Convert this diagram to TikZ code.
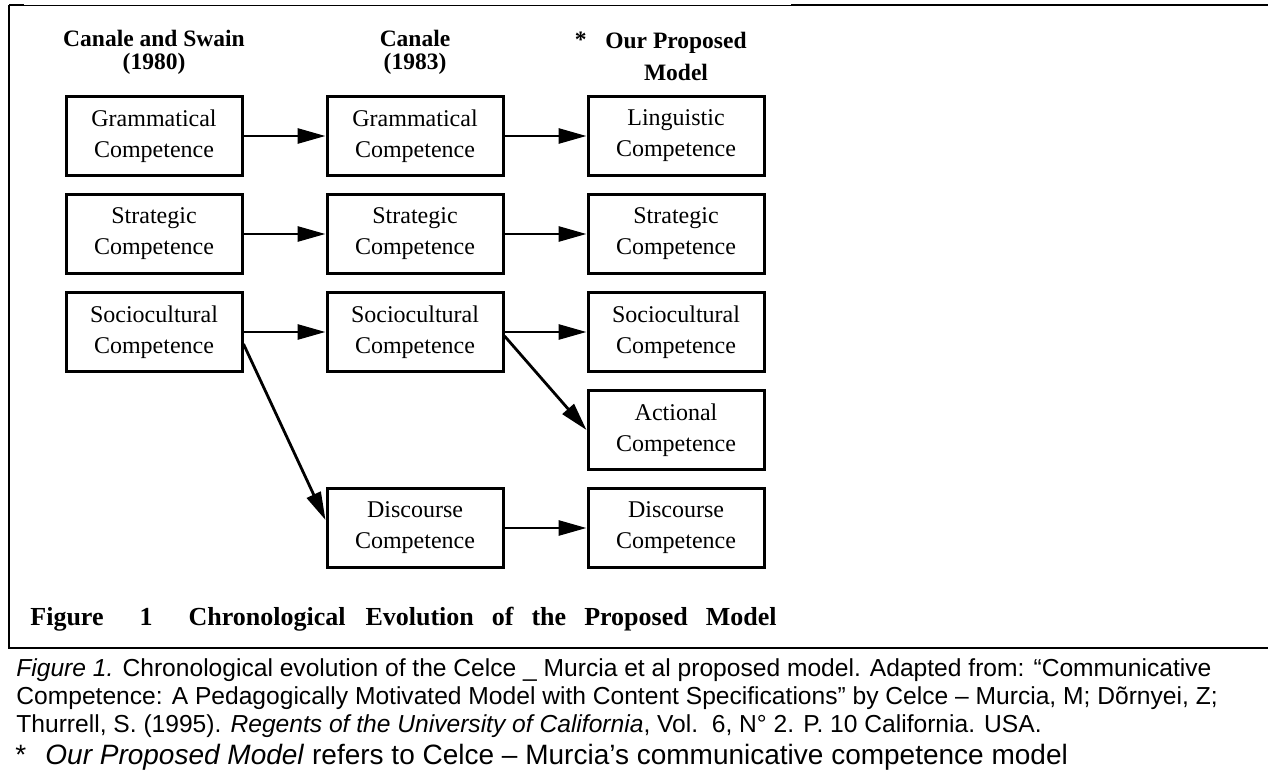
\documentclass[tikz,border=0pt]{standalone}
\usepackage{fontspec}
\setmainfont{Liberation Serif}
\newfontfamily\capfont{Liberation Sans}
\usetikzlibrary{positioning,arrows.meta}
\tikzset{box/.style={draw,line width=1.5pt,minimum width=88pt,minimum height=39.5pt,align=center,inner sep=0pt,font=\fontsize{12}{15.5}\selectfont},
         hdr/.style={align=center,inner sep=0pt,font=\fontsize{11.75}{11.5}\selectfont\bfseries},
         arr/.style={-{Triangle[length=14pt,width=7.5pt]},line width=1.4pt},
         rule/.style={line width=1pt},
         captxt/.style={anchor=base west,inner sep=0pt,font=\capfont\fontsize{12.3}{14}\selectfont}}

\begin{document}
\begin{tikzpicture}[x=0.5pt,y=-0.5pt,node distance=8pt and 41pt]
 \useasboundingbox (0,0) rectangle (1268,776);
 % frame of the table cell
 \draw[rule,line width=0.5pt] (24,5) -- (791,5);
 \draw[rule] (9,5) -- (24,5); \draw[rule] (791,5) -- (1268,5);
 \draw[rule] (9,5) -- (9,648) -- (1268,648);
 % three columns of competences
 \node[box] (g1) at (154,136) {Grammatical\\Competence};
 \node[box,right=of g1] (g2) {Grammatical\\Competence};
 \node[box,right=of g2] (g3) {Linguistic\\Competence};
 \node[box,below=of g1] (t1) {Strategic\\Competence};
 \node[box,right=of t1] (t2) {Strategic\\Competence};
 \node[box,right=of t2] (t3) {Strategic\\Competence};
 \node[box,below=of t1] (s1) {Sociocultural\\Competence};
 \node[box,right=of s1] (s2) {Sociocultural\\Competence};
 \node[box,right=of s2] (s3) {Sociocultural\\Competence};
 \node[box,below=of s3] (a3) {Actional\\Competence};
 \node[box,below=of a3] (d3) {Discourse\\Competence};
 \node[box,left=of d3] (d2) {Discourse\\Competence};
 % column heads
 \node[hdr,above=10pt of g1] (h1) {Canale and Swain\\(1980)};
 \node[hdr,above=10pt of g2] (h2) {Canale\\(1983)};
 \node[hdr,above=7pt of g3,font=\fontsize{11.75}{16}\selectfont\bfseries] (h3) {Our Proposed\\Model};
 \node[hdr,anchor=north east] (star) at ([xshift=-9pt]h3.north west) {*};
 % arrows
 \draw[arr] (g1) -- (g2); \draw[arr] (g2) -- (g3);
 \draw[arr] (t1) -- (t2); \draw[arr] (t2) -- (t3);
 \draw[arr] (s1) -- (s2); \draw[arr] (s2) -- (s3);
 \draw[arr] ([yshift=-6pt]s1.east) -- ([yshift=4pt]d2.west);
 \draw[arr] ([yshift=-2pt]s2.east) -- (a3.west);
 \draw[arr] (d2) -- (d3);
 % title and caption
 \node[anchor=base west,inner sep=0pt,font=\fontsize{13}{15}\selectfont\bfseries] (ttl) at (30,625)
   {Figure\hspace{18pt}1\hspace{18pt}Chronological\hspace{10pt}Evolution\hspace{9pt}of\hspace{9pt}the\hspace{9pt}Proposed\hspace{9pt}Model};
 \node[captxt] (c1) at (16,676) {\textit{Figure 1.} Chronological evolution of the Celce \_ Murcia et al proposed model. Adapted from: “Communicative};
 \node[captxt] (c2) at (16,704) {Competence: A Pedagogically Motivated Model with Content Specifications” by Celce – Murcia, M; Dõrnyei, Z;};
 \node[captxt] (c3) at (16,732) {Thurrell, S. (1995). \textit{Regents of the University of California}, Vol.\ \ 6, N° 2. P. 10 California. USA.};
 \node[captxt,font=\capfont\fontsize{14}{16}\selectfont] (c4s) at (15,764) {*};
 \node[captxt,font=\capfont\fontsize{14}{16}\selectfont] (c4) at (45,764) {\textit{Our Proposed Model} refers to Celce – Murcia’s communicative competence model};
\end{tikzpicture}
\end{document}
